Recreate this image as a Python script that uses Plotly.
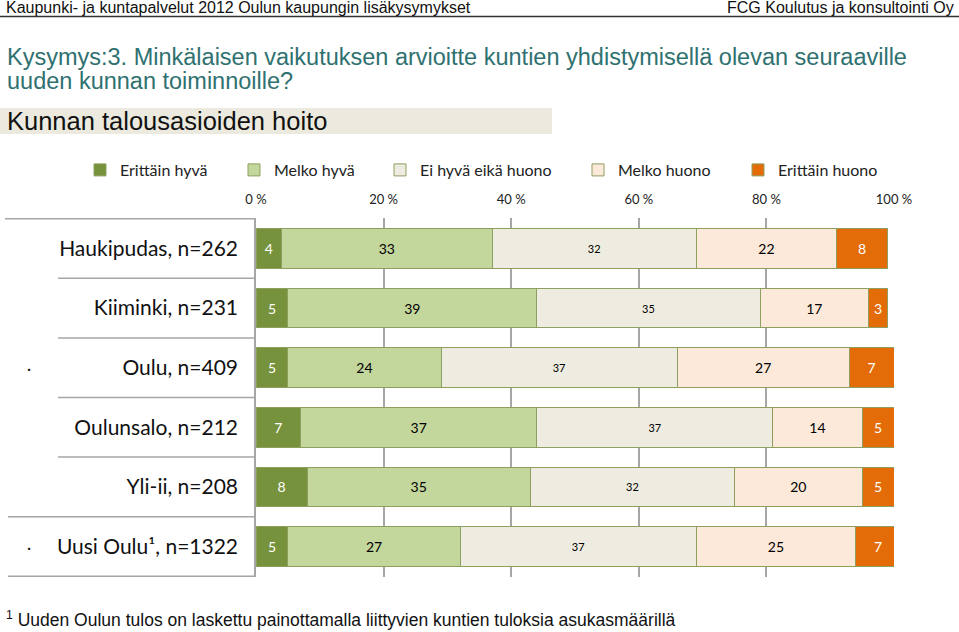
import plotly.graph_objects as go

categories = ["Haukipudas, n=262", "Kiiminki, n=231", "Oulu, n=409",
              "Oulunsalo, n=212", "Yli-ii, n=208", "Uusi Oulu¹, n=1322"]
series_names = ["Erittäin hyvä", "Melko hyvä", "Ei hyvä eikä huono", "Melko huono", "Erittäin huono"]
erittain_hyva = [4, 5, 5, 7, 8, 5]
melko_hyva = [33, 39, 24, 37, 35, 27]
ei_hyva_eika_huono = [32, 35, 37, 37, 32, 37]
melko_huono = [22, 17, 27, 14, 20, 25]
erittain_huono = [8, 3, 7, 5, 5, 7]
tick_vals = [0, 20, 40, 60, 80, 100]
tick_text = ["0 %", "20 %", "40 %", "60 %", "80 %", "100 %"]

series_values = [erittain_hyva, melko_hyva, ei_hyva_eika_huono, melko_huono, erittain_huono]
colors = ["#76923c", "#c3d69b", "#eeece1", "#fde9d9", "#e36c09"]
text_colors = ["white", "black", "black", "black", "white"]
text_sizes = [14, 14, 11, 14, 14]
legend_text_x = [120, 274, 420, 618, 778]

W, H = 959, 632
L, R, T, B = 256, 894, 218, 577

def xp(px):
    return (px - L) / (R - L)

def yp(py):
    return (B - py) / (B - T)

fig = go.Figure()
legend_layouts = {}
for i, (name, vals, c, tc, ts) in enumerate(zip(series_names, series_values, colors, text_colors, text_sizes)):
    lname = "legend" if i == 0 else f"legend{i + 1}"
    fig.add_trace(go.Bar(
        y=categories, x=vals, name=name, orientation="h", legend=lname,
        marker=dict(color=c, line=dict(color="#8f9f5f", width=1)),
        text=[str(v) for v in vals], textposition="inside", insidetextanchor="middle",
        textfont=dict(color=tc, size=ts, family="Lato"), constraintext="none",
        hoverinfo="x+name",
    ))
    legend_layouts[lname] = dict(
        orientation="h", x=xp(legend_text_x[i] - 40), y=yp(170), xanchor="left", yanchor="middle",
        font=dict(size=16, family="Lato", color="#222"), itemwidth=30,
        bgcolor="rgba(0,0,0,0)", borderwidth=0)

fig.update_layout(
    width=W, height=H,
    barmode="stack", bargap=1/3,
    margin=dict(l=L, r=W - R, t=T, b=H - B, pad=0),
    plot_bgcolor="white", paper_bgcolor="white",
    font=dict(family="Lato", color="black"),
    showlegend=True,
    xaxis=dict(side="top", range=[0, 100], tickvals=tick_vals, ticktext=tick_text,
               showgrid=True, gridcolor="#a6a6a6", gridwidth=1.5, zeroline=False,
               ticks="", ticklabelstandoff=10, tickfont=dict(size=13, family="Lato", color="#222"),
               showline=False, fixedrange=True),
    yaxis=dict(autorange="reversed", categoryorder="array", categoryarray=categories,
               ticks="", tickfont=dict(size=21, family="Lato", color="#111"),
               ticklabelstandoff=12, showline=True, linecolor="#a6a6a6", linewidth=1.5,
               showgrid=False, fixedrange=True),
    **legend_layouts,
)

shapes = []
shapes.append(dict(type="line", xref="paper", yref="paper", x0=xp(0), x1=xp(959),
                   y0=yp(16.5), y1=yp(16.5), line=dict(color="#333", width=1.5)))
shapes.append(dict(type="rect", xref="paper", yref="paper", x0=xp(0), x1=xp(552),
                   y0=yp(134), y1=yp(108), fillcolor="#eceadf", line=dict(width=0), layer="below"))
sep_left = {-0.5: 5, 0.5: 58, 1.5: 58, 2.5: 58, 3.5: 58, 4.5: 8, 5.5: 8}
for yv, lx in sep_left.items():
    shapes.append(dict(type="line", xref="paper", yref="y", x0=xp(lx), x1=0, y0=yv, y1=yv,
                       line=dict(color="#a6a6a6", width=1.5)))
fig.update_layout(shapes=shapes)

sans = "Liberation Sans, Arial"
ann = []
def txt(text, x, y, size, color="#111", anchor="left", family=sans):
    ann.append(dict(text=text, x=xp(x), y=yp(y), xref="paper", yref="paper", xanchor=anchor,
                    yanchor="middle", showarrow=False, font=dict(size=size, family=family, color=color)))

txt("Kaupunki- ja kuntapalvelut 2012 Oulun kaupungin lisäkysymykset", 4, 8, 16)
txt("FCG Koulutus ja konsultointi Oy", 956, 8, 16, anchor="right")
txt("Kysymys:3. Minkälaisen vaikutuksen arvioitte kuntien yhdistymisellä olevan seuraaville", 5, 57, 23.5, "#2f7170")
txt("uuden kunnan toiminnoille?", 5, 81, 23.5, "#2f7170")
txt("Kunnan talousasioiden hoito", 5, 121, 25.5)
txt("<sup>1</sup> Uuden Oulun tulos on laskettu painottamalla liittyvien kuntien tuloksia asukasmäärillä", 4, 619, 17.5)
for cat in [categories[2], categories[5]]:
    ann.append(dict(text="·", x=xp(29), y=cat, xref="paper", yref="y", xanchor="center",
                    yanchor="middle", showarrow=False, font=dict(size=16, family="Lato", color="#111")))
fig.update_layout(annotations=ann)

fig.write_html("out.html", config={"displayModeBar": False},
               post_script="document.body.style.margin='0';document.body.style.overflow='hidden';")
